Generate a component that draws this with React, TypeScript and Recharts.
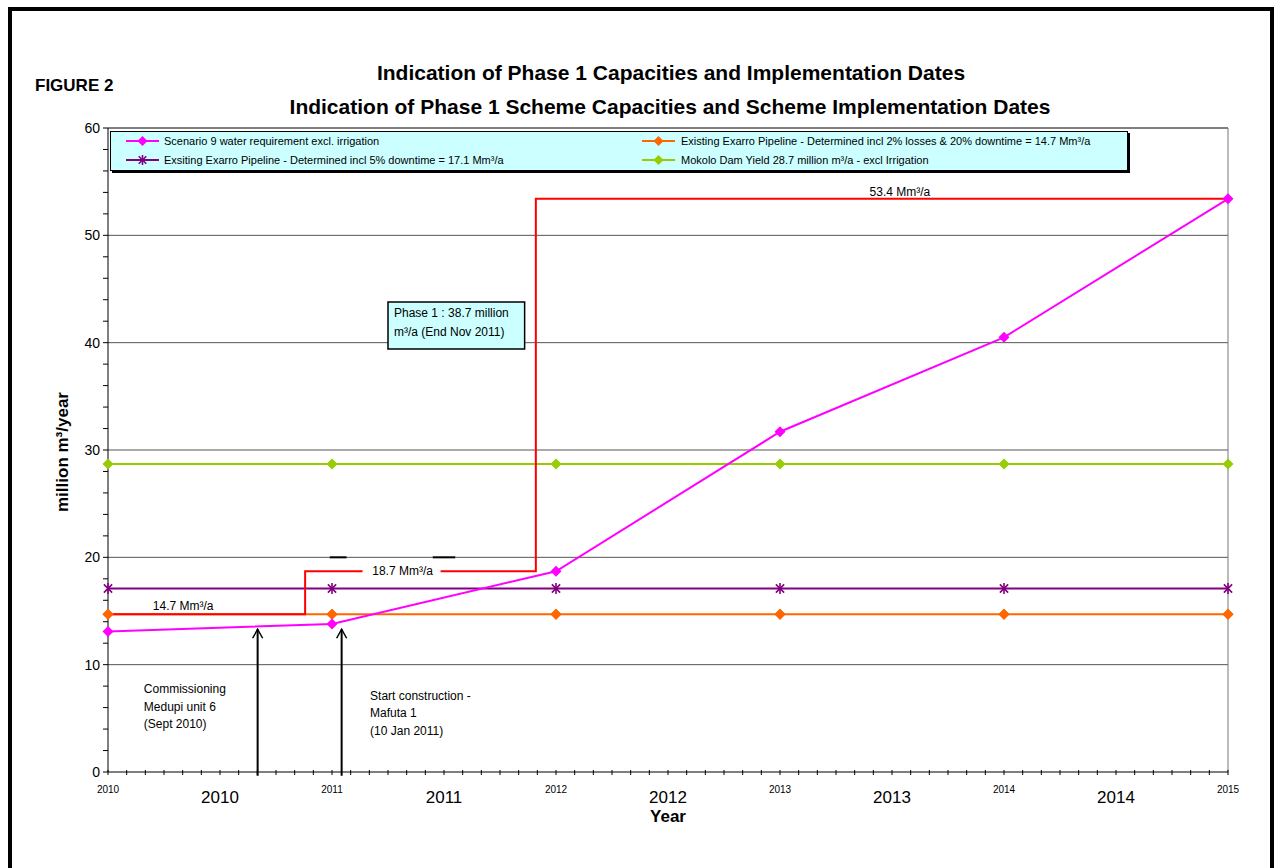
import {
  ComposedChart,
  Line,
  XAxis,
  YAxis,
  CartesianGrid,
  Legend,
  ReferenceLine,
  ReferenceArea,
  ReferenceDot,
  Label,
} from "recharts";

const FONT = '"Liberation Sans", Arial, sans-serif';

// #region Data
const years = [2010, 2011, 2012, 2013, 2014, 2015];
const scenario9 = [13.1, 13.8, 18.7, 31.7, 40.5, 53.4];
const exarro147 = [14.7, 14.7, 14.7, 14.7, 14.7, 14.7];
const exarro171 = [17.1, 17.1, 17.1, 17.1, 17.1, 17.1];
const mokolo = [28.7, 28.7, 28.7, 28.7, 28.7, 28.7];

// red capacity step: date the step starts, capacity from then on
const capacityDates = [2010, 2010.88, 2011.91, 2015];
const capacityValues = [14.7, 18.7, 53.4, 53.4];

const smallYearLabels = ["2010", "2011", "2012", "2013", "2014", "2015"];
const bigYearLabels = ["2010", "2011", "2012", "2013", "2014"];
const yTickLabels = ["0", "10", "20", "30", "40", "50", "60"];

const seriesNames = {
  scenario9: "Scenario 9 water requirement excl. irrigation",
  exarro147: "Existing Exarro Pipeline - Determined incl 2% losses & 20% downtime = 14.7 Mm³/a",
  exarro171: "Exsiting Exarro Pipeline - Determined incl 5% downtime = 17.1 Mm³/a",
  mokolo: "Mokolo Dam Yield 28.7 million m³/a - excl Irrigation",
};
// #endregion

const data = years.map((year, i) => ({
  year,
  scenario9: scenario9[i],
  exarro147: exarro147[i],
  exarro171: exarro171[i],
  mokolo: mokolo[i],
}));

const capacityData = capacityDates.map((year, i) => ({ year, capacity: capacityValues[i] }));

// monthly minor ticks on x, every 2 on y
const xTicks = Array.from({ length: 61 }, (_, k) => 2010 + k / 12);
const yTicks = Array.from({ length: 31 }, (_, k) => k * 2);

const COLORS = {
  scenario9: "#FF00FF",
  exarro147: "#FF6600",
  exarro171: "#800080",
  mokolo: "#99CC00",
  capacity: "#FF0000",
};

const diamondDot = (color: string, r: number) => (props: any) => {
  const { cx, cy, index } = props;
  if (cx == null || cy == null) return <g key={index} />;
  return (
    <polygon
      key={index}
      points={`${cx},${cy - r} ${cx + r},${cy} ${cx},${cy + r} ${cx - r},${cy}`}
      fill={color}
    />
  );
};

const starDot = (color: string, r: number) => (props: any) => {
  const { cx, cy, index } = props;
  if (cx == null || cy == null) return <g key={index} />;
  const d = r * 0.75;
  return (
    <g key={index} stroke={color} strokeWidth={1.6}>
      <line x1={cx} y1={cy - r} x2={cx} y2={cy + r} />
      <line x1={cx - d} y1={cy - d} x2={cx + d} y2={cy + d} />
      <line x1={cx - d} y1={cy + d} x2={cx + d} y2={cy - d} />
    </g>
  );
};

const XTick = (props: any) => {
  const { x, y, payload } = props;
  const m = Math.round((payload.value - 2010) * 12);
  const yr = Math.floor(m / 12);
  return (
    <g>
      <line x1={x} x2={x} y1={y - 2} y2={y + 3} stroke="#000" />
      {m % 12 === 0 && (
        <text x={x} y={y + 21} textAnchor="middle" fontSize={10} fontFamily={FONT} fill="#000">
          {smallYearLabels[yr]}
        </text>
      )}
      {m % 12 === 6 && (
        <text x={x} y={y + 31} textAnchor="middle" fontSize={17} fontFamily={FONT} fill="#000">
          {bigYearLabels[yr]}
        </text>
      )}
    </g>
  );
};

const YTick = (props: any) => {
  const { x, y, payload } = props;
  const v = payload.value;
  return (
    <g>
      <line x1={x - 5} x2={x} y1={y} y2={y} stroke="#000" />
      {v % 10 === 0 && (
        <text x={x - 8} y={y + 5} textAnchor="end" fontSize={14} fontFamily={FONT} fill="#000">
          {yTickLabels[v / 10]}
        </text>
      )}
    </g>
  );
};

const LegendIcon = ({ dataKey, color }: { dataKey: string; color: string }) => (
  <svg width={33} height={12} style={{ display: "block", flex: "none" }}>
    <line x1={0} x2={33} y1={6} y2={6} stroke={color} strokeWidth={2} />
    {dataKey === "exarro171"
      ? starDot(color, 5)({ cx: 16.5, cy: 6, index: 0 })
      : diamondDot(color, 5)({ cx: 16.5, cy: 6, index: 0 })}
  </svg>
);

const legendOrder = ["scenario9", "exarro147", "exarro171", "mokolo"];

const renderLegend = (props: any) => {
  const payload = props.payload || [];
  const items = legendOrder
    .map((k) => payload.find((p: any) => p.dataKey === k))
    .filter(Boolean);
  return (
    <div
      style={{
        width: 1018,
        height: 40,
        boxSizing: "border-box",
        background: "#CCFFFF",
        border: "1px solid #000",
        boxShadow: "2px 2px 0 #000",
        position: "relative",
        fontFamily: FONT,
        fontSize: 11,
        color: "#000",
      }}
    >
      {items.map((item: any, i: number) => {
        const col = i % 2;
        const row = Math.floor(i / 2);
        return (
          <div
            key={item.dataKey}
            style={{
              position: "absolute",
              left: col ? 531 : 15,
              top: row ? 20 : 1,
              height: 16,
              display: "flex",
              alignItems: "center",
              whiteSpace: "nowrap",
            }}
          >
            <LegendIcon dataKey={item.dataKey} color={item.color} />
            <span style={{ marginLeft: col ? 6 : 5 }}>{item.value}</span>
          </div>
        );
      })}
    </div>
  );
};

const textLines = (lines: string[], dx: number, dy: number, step: number, size: number) => (props: any) => {
  const { x, y } = props.viewBox;
  return (
    <text x={x + dx} y={y + dy} fontSize={size} fontFamily={FONT} fill="#000">
      {lines.map((l, i) => (
        <tspan key={i} x={x + dx} dy={i === 0 ? 0 : step}>
          {l}
        </tspan>
      ))}
    </text>
  );
};

const boxedLabel = (text: string) => (props: any) => {
  const { x, y } = props.viewBox;
  return (
    <g>
      <rect x={x - 40} y={y - 8} width={78} height={16} fill="#fff" />
      <text x={x} y={y + 4} textAnchor="middle" fontSize={12} fontFamily={FONT} fill="#000">
        {text}
      </text>
    </g>
  );
};

const Arrow = (props: any) => {
  const { x1, y1, y2 } = props;
  const top = Math.min(y1, y2);
  const bottom = Math.max(y1, y2);
  return (
    <g stroke="#000" fill="none">
      <line x1={x1} x2={x1} y1={top} y2={bottom} strokeWidth={2} />
      <polyline points={`${x1 - 5},${top + 9} ${x1},${top} ${x1 + 5},${top + 9}`} strokeWidth={1.5} />
    </g>
  );
};

const App = () => (
  <div
    style={{
      position: "absolute",
      left: 0,
      top: 0,
      width: 1275,
      height: 868,
      overflow: "hidden",
      background: "#fff",
      fontFamily: FONT,
    }}
  >
    <div
      style={{
        position: "absolute",
        left: 8,
        top: 7,
        width: 1266,
        height: 900,
        boxSizing: "border-box",
        border: "4px solid #000",
      }}
    />
    <div style={{ position: "absolute", left: 35, top: 76, fontSize: 17, fontWeight: "bold", lineHeight: "20px" }}>
      FIGURE 2
    </div>
    <div
      style={{
        position: "absolute",
        left: 671,
        top: 62,
        transform: "translateX(-50%)",
        whiteSpace: "nowrap",
        fontSize: 21,
        fontWeight: "bold",
        lineHeight: "22px",
      }}
    >
      Indication of Phase 1 Capacities and Implementation Dates
    </div>
    <div
      style={{
        position: "absolute",
        left: 670,
        top: 96,
        transform: "translateX(-50%)",
        whiteSpace: "nowrap",
        fontSize: 21,
        fontWeight: "bold",
        lineHeight: "22px",
      }}
    >
      Indication of Phase 1 Scheme Capacities and Scheme Implementation Dates
    </div>
    <ComposedChart
      width={1275}
      height={868}
      data={data}
      margin={{ top: 128, right: 47, bottom: 40, left: 48 }}
      style={{ position: "absolute", left: 0, top: 0 }}
    >
      <CartesianGrid vertical={false} horizontalValues={[10, 20, 30, 40, 50]} stroke="#555" />
      <XAxis
        dataKey="year"
        type="number"
        domain={[2010, 2015]}
        ticks={xTicks}
        interval={0}
        tickSize={0}
        tickMargin={0}
        tick={XTick}
        height={56}
        stroke="#000"
      >
        <Label
          content={(p: any) => (
            <text
              x={p.viewBox.x + p.viewBox.width / 2}
              y={p.viewBox.y + 50}
              textAnchor="middle"
              fontSize={17}
              fontWeight="bold"
              fontFamily={FONT}
              fill="#000"
            >
              Year
            </text>
          )}
        />
      </XAxis>
      <YAxis
        type="number"
        domain={[0, 60]}
        ticks={yTicks}
        interval={0}
        tickSize={0}
        tickMargin={0}
        tick={YTick}
        width={60}
        stroke="#000"
      >
        <Label
          content={(p: any) => {
            const cx = p.viewBox.x + 14;
            const cy = p.viewBox.y + p.viewBox.height / 2 + 2;
            return (
              <text
                x={cx}
                y={cy}
                transform={`rotate(-90 ${cx} ${cy})`}
                textAnchor="middle"
                dominantBaseline="central"
                fontSize={17}
                fontWeight="bold"
                fontFamily={FONT}
                fill="#000"
              >
                million m³/year
              </text>
            );
          }}
        />
      </YAxis>
      <ReferenceLine y={60} stroke="#000" />
      <ReferenceLine x={2015} stroke="#777" />
      <ReferenceLine segment={[{ x: 2010.99, y: 20 }, { x: 2011.065, y: 20 }]} stroke="#000" strokeWidth={2} />
      <ReferenceLine segment={[{ x: 2011.45, y: 20 }, { x: 2011.55, y: 20 }]} stroke="#000" strokeWidth={2} />

      <Legend
        content={renderLegend}
        layout="vertical"
        align="center"
        verticalAlign="middle"
        wrapperStyle={{ left: 110, top: 131, width: 1018, height: 40 }}
      />

      <Line
        dataKey="mokolo"
        name={seriesNames.mokolo}
        stroke={COLORS.mokolo}
        strokeWidth={2}
        dot={diamondDot(COLORS.mokolo, 5.5)}
        isAnimationActive={false}
      />
      <Line
        dataKey="exarro171"
        name={seriesNames.exarro171}
        stroke={COLORS.exarro171}
        strokeWidth={2}
        dot={starDot(COLORS.exarro171, 5.5)}
        isAnimationActive={false}
      />
      <Line
        dataKey="exarro147"
        name={seriesNames.exarro147}
        stroke={COLORS.exarro147}
        strokeWidth={2}
        dot={diamondDot(COLORS.exarro147, 5.5)}
        isAnimationActive={false}
      />
      <Line
        data={capacityData}
        dataKey="capacity"
        type="stepAfter"
        stroke={COLORS.capacity}
        strokeWidth={2}
        dot={false}
        legendType="none"
        isAnimationActive={false}
      />
      <Line
        dataKey="exarro147"
        stroke="none"
        dot={diamondDot(COLORS.exarro147, 5.5)}
        legendType="none"
        isAnimationActive={false}
      />
      <Line
        dataKey="scenario9"
        name={seriesNames.scenario9}
        stroke={COLORS.scenario9}
        strokeWidth={2}
        dot={diamondDot(COLORS.scenario9, 5.5)}
        isAnimationActive={false}
      />

      <ReferenceArea
        x1={2011.25}
        x2={2011.86}
        y1={39.4}
        y2={43.8}
        fill="#CCFFFF"
        fillOpacity={1}
        stroke="#000"
        strokeWidth={1.5}
        label={textLines(["Phase 1 : 38.7 million", "m³/a (End Nov 2011)"], 6, 15, 19, 12)}
      />
      <ReferenceDot x={2010.2} y={15.1} r={0} label={textLines(["14.7 Mm³/a"], 0, 0, 0, 12)} />
      <ReferenceDot x={2011.315} y={18.7} r={0} label={boxedLabel("18.7 Mm³/a")} />
      <ReferenceDot x={2013.4} y={53.4} r={0} label={textLines(["53.4 Mm³/a"], 0, -3, 0, 12)} />
      <ReferenceDot
        x={2010.16}
        y={7.33}
        r={0}
        label={textLines(["Commissioning", "Medupi unit 6", "(Sept 2010)"], 0, 0, 17.5, 12)}
      />
      <ReferenceDot
        x={2011.17}
        y={6.71}
        r={0}
        label={textLines(["Start construction -", "Mafuta 1", "(10 Jan 2011)"], 0, 0, 17.5, 12)}
      />
      <ReferenceLine
        segment={[{ x: 2010.668, y: -0.35 }, { x: 2010.668, y: 13.3 }]}
        ifOverflow="visible"
        shape={Arrow}
      />
      <ReferenceLine
        segment={[{ x: 2011.043, y: -0.35 }, { x: 2011.043, y: 13.3 }]}
        ifOverflow="visible"
        shape={Arrow}
      />
    </ComposedChart>
  </div>
);

export default App;
